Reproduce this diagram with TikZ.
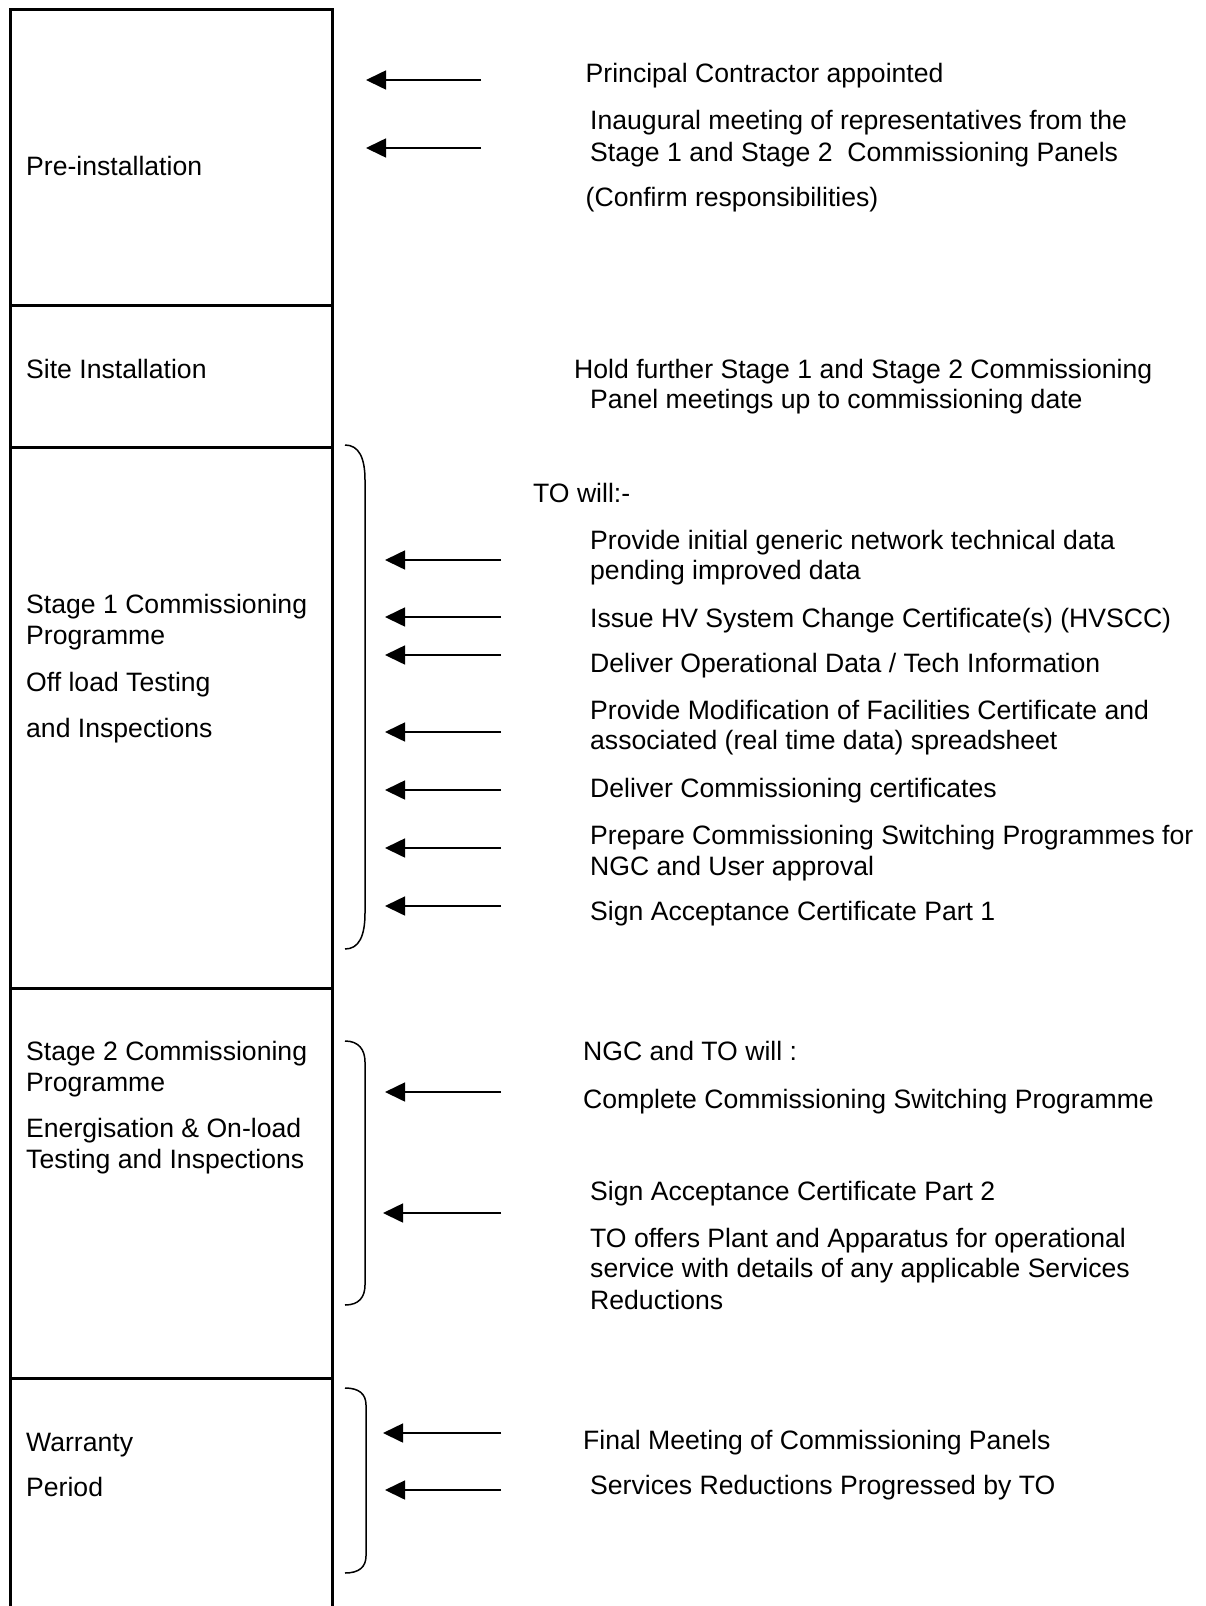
\documentclass[tikz,border=0pt]{standalone}
\usepackage{fontspec}
\setmainfont{Liberation Sans}
\usetikzlibrary{arrows.meta}
\tikzset{
  frameline/.style={line width=3pt, line join=miter},
  leftlbl/.style={anchor=base west, inner sep=0pt, font=\fontsize{26.6}{31}\selectfont},
  rightlbl/.style={anchor=base west, inner sep=0pt, yshift=-1.6pt, font=\fontsize{26.6}{31}\selectfont},
  arr/.style={line width=1.6pt, -{Triangle[length=20pt,width=19pt]}},
  bracket/.style={line width=1.5pt},
}
\begin{document}
\begin{tikzpicture}[x=1pt,y=-1pt]
\useasboundingbox[fill=white] (0,0) rectangle (1206,1606);
% frame of the phase column
\draw[frameline] (10,1606) -- (10,9) -- (332,9) -- (332,1606);
\draw[frameline] (10,305) -- (332,305);
\draw[frameline] (10,447) -- (332,447);
\draw[frameline] (10,988) -- (332,988);
\draw[frameline] (10,1378) -- (332,1378);

% phase labels
\node[leftlbl] (pre) at (26,175.7) {Pre-installation};
\node[leftlbl] (site) at (26,378) {Site Installation};
\node[leftlbl] (s1a) at (26,613.3) {Stage 1 Commissioning};
\node[leftlbl] (s1b) at (26,644.5) {Programme};
\node[leftlbl] (s1c) at (26,691.5) {Off load Testing};
\node[leftlbl] (s1d) at (26,737.5) {and Inspections};
\node[leftlbl] (s2a) at (26,1060) {Stage 2 Commissioning};
\node[leftlbl] (s2b) at (26,1091.5) {Programme};
\node[leftlbl] (s2c) at (26,1137) {Energisation \& On-load};
\node[leftlbl] (s2d) at (26,1168.5) {Testing and Inspections};
\node[leftlbl] (wa) at (26,1451) {Warranty};
\node[leftlbl] (wb) at (26,1496.5) {Period};

% brackets
\draw[bracket] (345,445) .. controls (359,445) and (365,458) .. (365,480) -- (365,913) .. controls (365,936) and (359,949) .. (345,949);
\draw[bracket] (345,1041) .. controls (359,1041) and (365,1050) .. (365,1062) -- (365,1285) .. controls (365,1297) and (359,1305) .. (345,1305);
\draw[bracket] (345,1388) .. controls (359,1388) and (366,1394) .. (366,1405) -- (366,1556) .. controls (366,1567) and (359,1573) .. (345,1573);

% right-hand texts
\node[rightlbl] (t1) at (585.5,80.5) {Principal Contractor appointed};
\node[rightlbl] (t2a) at (590,128.3) {Inaugural meeting of representatives from the};
\node[rightlbl] (t2b) at (590,159.5) {Stage 1 and Stage 2~ Commissioning Panels};
\node[rightlbl] (t3) at (585.5,205) {(Confirm responsibilities)};
\node[rightlbl] (t4a) at (574,377.3) {Hold further Stage 1 and Stage 2 Commissioning};
\node[rightlbl] (t4b) at (590,407.3) {Panel meetings up to commissioning date};
\node[rightlbl] (t5) at (533,500.7) {TO will:-};
\node[rightlbl] (t6a) at (590,548.3) {Provide initial generic network technical data};
\node[rightlbl] (t6b) at (590,578.3) {pending improved data};
\node[rightlbl] (t7) at (590,625.7) {Issue HV System Change Certificate(s) (HVSCC)};
\node[rightlbl] (t8) at (590,670.7) {Deliver Operational Data / Tech Information};
\node[rightlbl] (t9a) at (590,718.3) {Provide Modification of Facilities Certificate and};
\node[rightlbl] (t9b) at (590,748.3) {associated (real time data) spreadsheet};
\node[rightlbl] (t10) at (590,795.6) {Deliver Commissioning certificates};
\node[rightlbl] (t11a) at (590,842.7) {Prepare Commissioning Switching Programmes for};
\node[rightlbl] (t11b) at (590,873.5) {NGC and User approval};
\node[rightlbl] (t12) at (590,918.6) {Sign Acceptance Certificate Part 1};
\node[rightlbl] (t13) at (583,1059.3) {NGC and TO will :};
\node[rightlbl] (t14) at (583,1106.7) {Complete Commissioning Switching Programme};
\node[rightlbl] (t15) at (590,1199) {Sign Acceptance Certificate Part 2};
\node[rightlbl] (t16a) at (590,1246) {TO offers Plant and Apparatus for operational};
\node[rightlbl] (t16b) at (590,1276) {service with details of any applicable Services};
\node[rightlbl] (t16c) at (590,1307.7) {Reductions};
\node[rightlbl] (t17) at (583,1447.7) {Final Meeting of Commissioning Panels};
\node[rightlbl] (t18) at (590,1493.3) {Services Reductions Progressed by TO};

% arrow end points
\foreach \n/\xt/\xh/\y in {a1/481/366/80, a2/481/366/148,
  b1/501/385/560, b2/501/385/617, b3/501/385/655, b4/501/385/732,
  b5/501/385/790, b6/501/385/848, b7/501/385/906,
  c1/501/385/1092, c2/501/383/1213,
  d1/501/383/1433, d2/501/385/1490}{
  \coordinate (\n t) at (\xt,\y);
  \coordinate (\n h) at (\xh,\y);
}
\foreach \n in {a1,a2,b1,b2,b3,b4,b5,b6,b7,c1,c2,d1,d2}{
  \draw[arr] (\n t) -- (\n h);
}
\end{tikzpicture}
\end{document}
